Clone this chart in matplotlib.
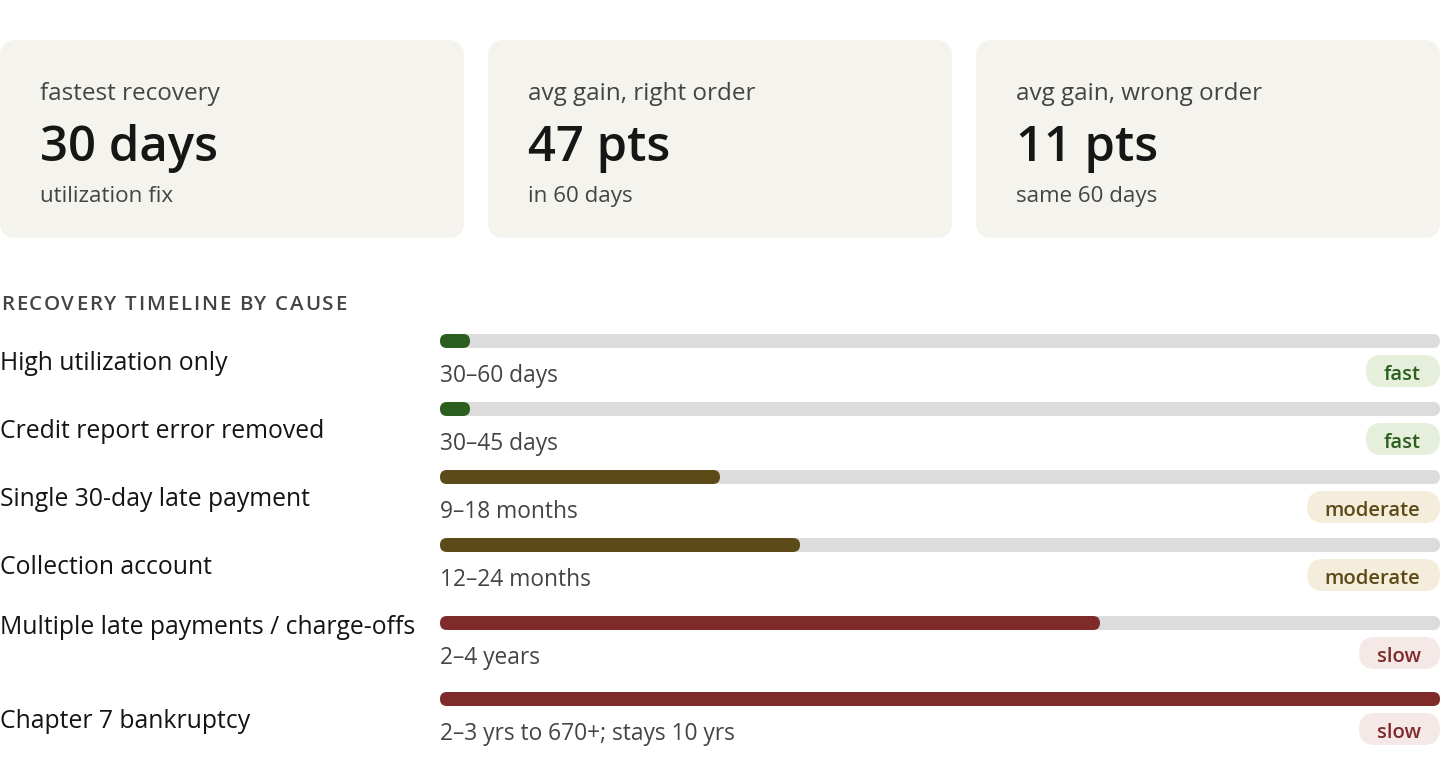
import matplotlib
matplotlib.use("Agg")
import matplotlib.pyplot as plt
from matplotlib.patches import FancyBboxPatch

# ---------------- data ----------------
kpi_labels = ["fastest recovery", "avg gain, right order", "avg gain, wrong order"]
kpi_values = ["30 days", "47 pts", "11 pts"]
kpi_subs = ["utilization fix", "in 60 days", "same 60 days"]

section_title = "RECOVERY TIMELINE BY CAUSE"
causes = ["High utilization only", "Credit report error removed",
          "Single 30-day late payment", "Collection account",
          "Multiple late payments / charge-offs", "Chapter 7 bankruptcy"]
ranges = ["30–60 days", "30–45 days", "9–18 months", "12–24 months",
          "2–4 years", "2–3 yrs to 670+; stays 10 yrs"]
bar_pct = [3, 3, 28, 36, 66, 100]
speeds = ["fast", "fast", "moderate", "moderate", "slow", "slow"]

# ---------------- styles / layout ----------------
FONT = "Open Sans"
plt.rcParams["font.family"] = [FONT, "DejaVu Sans"]
DPI = 100
W, H = 1440, 760
PT = 72 / DPI  # px -> pt

speed_style = {
    "fast": dict(bar="#2b5e1f", bg="#e6efdc", fg="#2b5e1f"),
    "moderate": dict(bar="#5c4a18", bg="#f5eddc", fg="#5c4a18"),
    "slow": dict(bar="#7f2b29", bg="#f5e9e8", fg="#7f2b29"),
}
card_bg = "#f4f3ed"
track_col = "#dcdcdc"

card_x = [0, 488, 976]
card_w, card_top, card_h = 464, 40, 198

bar_y = [341, 409, 477, 545, 623, 699]
label_y = [370, 438, 506, 574, 634, 728]
range_off = 41
badge_y = [371, 439, 507, 575, 653, 729]
bar_h = 14
track_x0, track_w = 440, 1000

fig = plt.figure(figsize=(W / DPI, H / DPI), dpi=DPI, facecolor="white")
lay = fig.add_axes([0, 0, 1, 1])
lay.set_xlim(0, W)
lay.set_ylim(H, 0)
lay.axis("off")
renderer = fig.canvas.get_renderer()

# ---------------- KPI cards ----------------
for i in range(3):
    x0 = card_x[i]
    lay.add_patch(FancyBboxPatch((x0, card_top), card_w, card_h,
                                 boxstyle="round,pad=0,rounding_size=16",
                                 fc=card_bg, ec="none"))
    lay.text(x0 + 40, 100, kpi_labels[i], fontsize=24.3 * PT, color="#444444",
             va="baseline", ha="left")
    lay.text(x0 + 40, 161, kpi_values[i], fontsize=49 * PT, color="#161616",
             fontweight="semibold", va="baseline", ha="left")
    lay.text(x0 + 40, 202, kpi_subs[i], fontsize=22.4 * PT, color="#444444",
             va="baseline", ha="left")


# ---------------- section title (letter-spaced) ----------------
def text_width(s, **kw):
    t = lay.text(0, 0, s, **kw)
    w = t.get_window_extent(renderer).width
    t.remove()
    return w


def spaced_text(x, y, s, spacing, **kw):
    bar_w = text_width("|", **kw)
    for i, ch in enumerate(s):
        if ch == " ":
            continue
        off = (text_width(s[:i] + "|", **kw) - bar_w) if i > 0 else 0
        lay.text(x + off + i * spacing, y, ch, **kw)


spaced_text(1, 310, section_title, 1.8, fontsize=20.5 * PT, color="#444444",
            fontweight="semibold", va="baseline", ha="left")

# ---------------- bars ----------------
bax = fig.add_axes([track_x0 / W, 0, track_w / W, 1])
bax.set_xlim(0, 100)
bax.set_ylim(H, 0)
bax.axis("off")
aspect = track_w / 100.0  # px per x-unit ; y unit = 1 px
r = bar_h / 2 / aspect

for i, (c, rng, pct, sp) in enumerate(zip(causes, ranges, bar_pct, speeds)):
    st = speed_style[sp]
    yc = bar_y[i]
    bax.add_patch(FancyBboxPatch((0, yc - bar_h / 2), 100, bar_h,
                                 boxstyle=f"round,pad=0,rounding_size={r}",
                                 mutation_aspect=aspect, fc=track_col, ec="none"))
    bax.add_patch(FancyBboxPatch((0, yc - bar_h / 2), pct, bar_h,
                                 boxstyle=f"round,pad=0,rounding_size={r}",
                                 mutation_aspect=aspect, fc=st["bar"], ec="none"))
    # cause label
    lay.text(0, label_y[i], c, fontsize=24.8 * PT, color="#141414",
             va="baseline", ha="left")
    # range text
    lay.text(track_x0, yc + range_off, rng, fontsize=22.7 * PT, color="#444444",
             va="baseline", ha="left")
    # badge
    kw = dict(fontsize=20.3 * PT, fontweight="semibold", color=st["fg"])
    tw = text_width(sp, **kw)
    bw, bh = tw + 37, 32
    bx = W - bw
    by = badge_y[i] - bh / 2
    lay.add_patch(FancyBboxPatch((bx, by), bw, bh,
                                 boxstyle="round,pad=0,rounding_size=16",
                                 fc=st["bg"], ec="none"))
    lay.text(bx + bw / 2 - 1, badge_y[i] + 1, sp, ha="center",
             va="center_baseline", **kw)

fig.savefig("out.png", dpi=DPI, facecolor="white")
